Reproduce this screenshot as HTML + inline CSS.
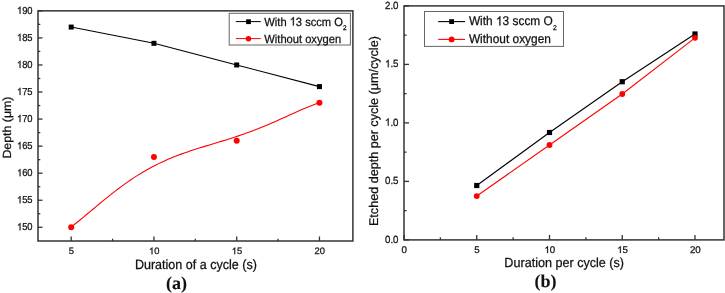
<!DOCTYPE html>
<html><head><meta charset="utf-8"><style>
html,body{margin:0;padding:0;background:#fff;}
svg{display:block;will-change:transform;}
text{font-family:"Liberation Sans",sans-serif;fill:#111;stroke:#111;stroke-width:0.25px;text-rendering:geometricPrecision;}
.lbl{font-family:"Liberation Serif",serif;font-weight:bold;stroke-width:0.1px;}
</style></head><body>
<svg width="725" height="293" viewBox="0 0 725 293">
<defs><path id="one" d="M763 0L583 0L583 1147Q518 1085 412 1023Q306 961 223 927L223 1101Q373 1171 486 1272Q599 1373 646 1466L763 1466Z" fill="#111" stroke="#111" stroke-width="0.25" vector-effect="non-scaling-stroke"/></defs>
<rect width="725" height="293" fill="#fff"/>
<rect x="38.0" y="10.85" width="314.90" height="230.15" fill="none" stroke="#333" stroke-width="1.5"/>
<line x1="38.0" y1="227.30" x2="42.5" y2="227.30" stroke="#333" stroke-width="1.3"/>
<g transform="translate(32.60,230.30) scale(1,1.08)">
<text id="t1" font-size="9.4" text-anchor="end" > 50</text>
<use href="#one" transform="translate(-15.656,0) scale(0.00459,-0.00459)"/>
</g>
<line x1="38.0" y1="200.24" x2="42.5" y2="200.24" stroke="#333" stroke-width="1.3"/>
<g transform="translate(32.60,203.24) scale(1,1.08)">
<text id="t2" font-size="9.4" text-anchor="end" > 55</text>
<use href="#one" transform="translate(-15.656,0) scale(0.00459,-0.00459)"/>
</g>
<line x1="38.0" y1="173.19" x2="42.5" y2="173.19" stroke="#333" stroke-width="1.3"/>
<g transform="translate(32.60,176.19) scale(1,1.08)">
<text id="t3" font-size="9.4" text-anchor="end" > 60</text>
<use href="#one" transform="translate(-15.656,0) scale(0.00459,-0.00459)"/>
</g>
<line x1="38.0" y1="146.13" x2="42.5" y2="146.13" stroke="#333" stroke-width="1.3"/>
<g transform="translate(32.60,149.13) scale(1,1.08)">
<text id="t4" font-size="9.4" text-anchor="end" > 65</text>
<use href="#one" transform="translate(-15.656,0) scale(0.00459,-0.00459)"/>
</g>
<line x1="38.0" y1="119.07" x2="42.5" y2="119.07" stroke="#333" stroke-width="1.3"/>
<g transform="translate(32.60,122.07) scale(1,1.08)">
<text id="t5" font-size="9.4" text-anchor="end" > 70</text>
<use href="#one" transform="translate(-15.656,0) scale(0.00459,-0.00459)"/>
</g>
<line x1="38.0" y1="92.02" x2="42.5" y2="92.02" stroke="#333" stroke-width="1.3"/>
<g transform="translate(32.60,95.02) scale(1,1.08)">
<text id="t6" font-size="9.4" text-anchor="end" > 75</text>
<use href="#one" transform="translate(-15.656,0) scale(0.00459,-0.00459)"/>
</g>
<line x1="38.0" y1="64.96" x2="42.5" y2="64.96" stroke="#333" stroke-width="1.3"/>
<g transform="translate(32.60,67.96) scale(1,1.08)">
<text id="t7" font-size="9.4" text-anchor="end" > 80</text>
<use href="#one" transform="translate(-15.656,0) scale(0.00459,-0.00459)"/>
</g>
<line x1="38.0" y1="37.91" x2="42.5" y2="37.91" stroke="#333" stroke-width="1.3"/>
<g transform="translate(32.60,40.91) scale(1,1.08)">
<text id="t8" font-size="9.4" text-anchor="end" > 85</text>
<use href="#one" transform="translate(-15.656,0) scale(0.00459,-0.00459)"/>
</g>
<line x1="38.0" y1="10.85" x2="42.5" y2="10.85" stroke="#333" stroke-width="1.3"/>
<g transform="translate(32.60,13.85) scale(1,1.08)">
<text id="t9" font-size="9.4" text-anchor="end" > 90</text>
<use href="#one" transform="translate(-15.656,0) scale(0.00459,-0.00459)"/>
</g>
<line x1="38.0" y1="213.77" x2="40.3" y2="213.77" stroke="#333" stroke-width="1.3"/>
<line x1="38.0" y1="186.72" x2="40.3" y2="186.72" stroke="#333" stroke-width="1.3"/>
<line x1="38.0" y1="159.66" x2="40.3" y2="159.66" stroke="#333" stroke-width="1.3"/>
<line x1="38.0" y1="132.60" x2="40.3" y2="132.60" stroke="#333" stroke-width="1.3"/>
<line x1="38.0" y1="105.55" x2="40.3" y2="105.55" stroke="#333" stroke-width="1.3"/>
<line x1="38.0" y1="78.49" x2="40.3" y2="78.49" stroke="#333" stroke-width="1.3"/>
<line x1="38.0" y1="51.43" x2="40.3" y2="51.43" stroke="#333" stroke-width="1.3"/>
<line x1="38.0" y1="24.38" x2="40.3" y2="24.38" stroke="#333" stroke-width="1.3"/>
<line x1="71.20" y1="241.0" x2="71.20" y2="236.5" stroke="#333" stroke-width="1.3"/>
<text transform="translate(71.40,254.20) scale(1,1.0)" font-size="9.4" text-anchor="middle" >5</text>
<line x1="153.95" y1="241.0" x2="153.95" y2="236.5" stroke="#333" stroke-width="1.3"/>
<g transform="translate(154.15,254.20) scale(1,1.0)">
<text id="t10" font-size="9.4" text-anchor="middle" > 0</text>
<use href="#one" transform="translate(-5.219,0) scale(0.00459,-0.00459)"/>
</g>
<line x1="236.70" y1="241.0" x2="236.70" y2="236.5" stroke="#333" stroke-width="1.3"/>
<g transform="translate(236.90,254.20) scale(1,1.0)">
<text id="t11" font-size="9.4" text-anchor="middle" > 5</text>
<use href="#one" transform="translate(-5.219,0) scale(0.00459,-0.00459)"/>
</g>
<line x1="319.45" y1="241.0" x2="319.45" y2="236.5" stroke="#333" stroke-width="1.3"/>
<text transform="translate(319.65,254.20) scale(1,1.0)" font-size="9.4" text-anchor="middle" >20</text>
<line x1="112.58" y1="241.0" x2="112.58" y2="238.7" stroke="#333" stroke-width="1.3"/>
<line x1="195.32" y1="241.0" x2="195.32" y2="238.7" stroke="#333" stroke-width="1.3"/>
<line x1="278.07" y1="241.0" x2="278.07" y2="238.7" stroke="#333" stroke-width="1.3"/>
<text transform="translate(195.90,269.30) scale(1,1.06)" font-size="12.55" text-anchor="middle" class="t">Duration of a cycle (s)</text>
<text transform="translate(10.9,127.6) rotate(-90) scale(1,0.96)" font-size="12.35" text-anchor="middle">Depth (μm)</text>
<text x="176.4" y="288.7" font-size="18" text-anchor="middle" class="lbl">(a)</text>
<polyline points="71.20,27.08 153.95,43.32 236.70,64.96 319.45,86.61" fill="none" stroke="#000" stroke-width="1.1"/>
<rect x="68.70" y="24.58" width="5" height="5" fill="#000"/>
<rect x="151.45" y="40.82" width="5" height="5" fill="#000"/>
<rect x="234.20" y="62.46" width="5" height="5" fill="#000"/>
<rect x="316.95" y="84.11" width="5" height="5" fill="#000"/>
<polyline points="71.20,227.30 74.34,224.46 77.48,221.99 80.63,219.47 83.77,216.90 86.91,214.29 90.05,211.67 93.20,209.04 96.34,206.41 99.48,203.79 102.62,201.19 105.77,198.62 108.91,196.08 112.05,193.58 115.19,191.13 118.34,188.73 121.48,186.39 124.62,184.10 127.76,181.88 130.91,179.72 134.05,177.63 137.19,175.61 140.33,173.66 143.48,171.77 146.62,169.96 149.76,168.21 152.90,166.53 156.04,164.92 159.19,163.37 162.33,161.89 165.47,160.46 168.61,159.09 171.76,157.78 174.90,156.52 178.04,155.30 181.18,154.13 184.33,153.00 187.47,151.91 190.61,150.85 193.75,149.81 196.90,148.81 200.04,147.82 203.18,146.85 206.32,145.89 209.47,144.94 212.61,143.99 215.75,143.04 218.89,142.09 222.04,141.14 225.18,140.17 228.32,139.19 231.46,138.19 234.61,137.17 237.75,136.12 240.89,135.06 244.03,133.96 247.17,132.84 250.32,131.69 253.46,130.51 256.60,129.29 259.74,128.05 262.89,126.78 266.03,125.47 269.17,124.14 272.31,122.79 275.46,121.41 278.60,120.01 281.74,118.59 284.88,117.17 288.03,115.74 291.17,114.31 294.31,112.88 297.45,111.47 300.60,110.08 303.74,108.72 306.88,107.41 310.02,106.14 313.17,104.94 316.31,103.81 319.45,102.84" fill="none" stroke="#f00" stroke-width="1.1"/>
<circle cx="71.20" cy="227.30" r="3.0" fill="#f00"/>
<circle cx="153.95" cy="156.95" r="3.0" fill="#f00"/>
<circle cx="236.70" cy="140.72" r="3.0" fill="#f00"/>
<circle cx="319.45" cy="102.84" r="3.0" fill="#f00"/>
<rect x="229.2" y="13.3" width="121.2" height="31.7" fill="#fff" stroke="#666" stroke-width="1"/>
<line x1="235.8" y1="21.6" x2="260.8" y2="21.6" stroke="#000" stroke-width="1"/>
<rect x="246.1" y="19.3" width="4.8" height="4.8" fill="#000"/>
<g transform="translate(264.30,25.50) scale(1,1.06)">
<text id="t12" font-size="11.15" text-anchor="start" >With  3 sccm O<tspan font-size="6.4" dy="3.9" dx="0.2">2</tspan></text>
<use href="#one" transform="translate(25.375,0) scale(0.00544,-0.00544)"/>
</g>
<line x1="235.8" y1="38.6" x2="260.8" y2="38.6" stroke="#f00" stroke-width="1"/>
<circle cx="248.45" cy="38.7" r="2.7" fill="#f00"/>
<text transform="translate(264.3,42.9) scale(1,1.06)" font-size="11.15">Without oxygen</text>
<rect x="404.0" y="5.9" width="320.00" height="234.00" fill="none" stroke="#333" stroke-width="1.5"/>
<line x1="404.0" y1="239.90" x2="409.0" y2="239.90" stroke="#333" stroke-width="1.3"/>
<text transform="translate(398.50,242.70) scale(1,1.07)" font-size="9.7" text-anchor="end" >0.0</text>
<line x1="404.0" y1="181.40" x2="409.0" y2="181.40" stroke="#333" stroke-width="1.3"/>
<text transform="translate(398.50,184.20) scale(1,1.07)" font-size="9.7" text-anchor="end" >0.5</text>
<line x1="404.0" y1="122.90" x2="409.0" y2="122.90" stroke="#333" stroke-width="1.3"/>
<g transform="translate(398.50,125.70) scale(1,1.07)">
<text id="t13" font-size="9.7" text-anchor="end" > .0</text>
<use href="#one" transform="translate(-13.469,0) scale(0.00474,-0.00474)"/>
</g>
<line x1="404.0" y1="64.40" x2="409.0" y2="64.40" stroke="#333" stroke-width="1.3"/>
<g transform="translate(398.50,67.20) scale(1,1.07)">
<text id="t14" font-size="9.7" text-anchor="end" > .5</text>
<use href="#one" transform="translate(-13.469,0) scale(0.00474,-0.00474)"/>
</g>
<line x1="404.0" y1="5.90" x2="409.0" y2="5.90" stroke="#333" stroke-width="1.3"/>
<text transform="translate(398.50,8.70) scale(1,1.07)" font-size="9.7" text-anchor="end" >2.0</text>
<line x1="404.0" y1="210.65" x2="406.6" y2="210.65" stroke="#333" stroke-width="1.3"/>
<line x1="404.0" y1="152.15" x2="406.6" y2="152.15" stroke="#333" stroke-width="1.3"/>
<line x1="404.0" y1="93.65" x2="406.6" y2="93.65" stroke="#333" stroke-width="1.3"/>
<line x1="404.0" y1="35.15" x2="406.6" y2="35.15" stroke="#333" stroke-width="1.3"/>
<line x1="404.00" y1="239.9" x2="404.00" y2="234.9" stroke="#333" stroke-width="1.3"/>
<text transform="translate(404.30,253.10) scale(1,1.0)" font-size="9.7" text-anchor="middle" >0</text>
<line x1="476.75" y1="239.9" x2="476.75" y2="234.9" stroke="#333" stroke-width="1.3"/>
<text transform="translate(477.05,253.10) scale(1,1.0)" font-size="9.7" text-anchor="middle" >5</text>
<line x1="549.50" y1="239.9" x2="549.50" y2="234.9" stroke="#333" stroke-width="1.3"/>
<g transform="translate(549.80,253.10) scale(1,1.0)">
<text id="t15" font-size="9.7" text-anchor="middle" > 0</text>
<use href="#one" transform="translate(-5.391,0) scale(0.00474,-0.00474)"/>
</g>
<line x1="622.25" y1="239.9" x2="622.25" y2="234.9" stroke="#333" stroke-width="1.3"/>
<g transform="translate(622.55,253.10) scale(1,1.0)">
<text id="t16" font-size="9.7" text-anchor="middle" > 5</text>
<use href="#one" transform="translate(-5.391,0) scale(0.00474,-0.00474)"/>
</g>
<line x1="695.00" y1="239.9" x2="695.00" y2="234.9" stroke="#333" stroke-width="1.3"/>
<text transform="translate(695.30,253.10) scale(1,1.0)" font-size="9.7" text-anchor="middle" >20</text>
<line x1="440.38" y1="239.9" x2="440.38" y2="237.29999999999998" stroke="#333" stroke-width="1.3"/>
<line x1="513.12" y1="239.9" x2="513.12" y2="237.29999999999998" stroke="#333" stroke-width="1.3"/>
<line x1="585.88" y1="239.9" x2="585.88" y2="237.29999999999998" stroke="#333" stroke-width="1.3"/>
<line x1="658.62" y1="239.9" x2="658.62" y2="237.29999999999998" stroke="#333" stroke-width="1.3"/>
<text transform="translate(564.20,266.50) scale(1,1.04)" font-size="12.6" text-anchor="middle" class="t">Duration per cycle (s)</text>
<text transform="translate(378.2,131.1) rotate(-90)" font-size="12.6" text-anchor="middle">Etched depth per cycle (μm/cycle)</text>
<text x="545.6" y="286.5" font-size="18" text-anchor="middle" class="lbl">(b)</text>
<polyline points="476.75,185.50 549.50,132.49 622.25,81.72 695.00,33.98" fill="none" stroke="#000" stroke-width="1.1"/>
<rect x="474.15" y="182.90" width="5.2" height="5.2" fill="#000"/>
<rect x="546.90" y="129.89" width="5.2" height="5.2" fill="#000"/>
<rect x="619.65" y="79.12" width="5.2" height="5.2" fill="#000"/>
<rect x="692.40" y="31.38" width="5.2" height="5.2" fill="#000"/>
<polyline points="476.75,196.03 549.50,145.01 622.25,94.00 695.00,37.84" fill="none" stroke="#f00" stroke-width="1.1"/>
<circle cx="476.75" cy="196.03" r="2.9" fill="#f00"/>
<circle cx="549.50" cy="145.01" r="2.9" fill="#f00"/>
<circle cx="622.25" cy="94.00" r="2.9" fill="#f00"/>
<circle cx="695.00" cy="37.84" r="2.9" fill="#f00"/>
<rect x="424.5" y="11.5" width="139" height="34.9" fill="#fff" stroke="#666" stroke-width="1"/>
<line x1="438.2" y1="21.6" x2="465" y2="21.6" stroke="#000" stroke-width="1.1"/>
<rect x="449.2" y="19.2" width="4.8" height="4.8" fill="#000"/>
<g transform="translate(468.90,25.40) scale(1,1.06)">
<text id="t17" font-size="11.9" text-anchor="start" >With  3 sccm O<tspan font-size="6.7" dy="4.3" dx="0.3">2</tspan></text>
<use href="#one" transform="translate(27.078,0) scale(0.00581,-0.00581)"/>
</g>
<line x1="438.2" y1="39.4" x2="465" y2="39.4" stroke="#f00" stroke-width="1.1"/>
<circle cx="451.6" cy="39.4" r="2.9" fill="#f00"/>
<text transform="translate(468.9,43.3) scale(1,1.06)" font-size="11.9">Without oxygen</text>
</svg>
</body></html>
